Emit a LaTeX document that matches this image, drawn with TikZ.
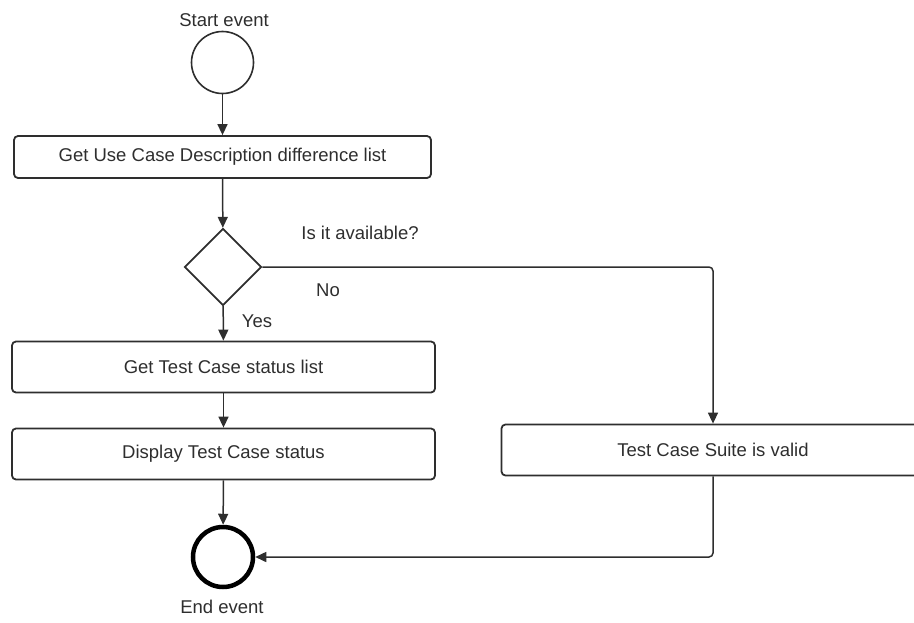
\documentclass[tikz,border=0pt]{standalone}
\usepackage{fontspec}
\setmainfont{Liberation Sans}
\usetikzlibrary{arrows.meta,shapes.geometric}
\definecolor{ink}{HTML}{2E2E2E}
\tikzset{
  every node/.style={text=ink, font=\fontsize{18.5}{21}\selectfont},
  task/.style={draw=ink, line width=1.8pt, rounded corners=4pt, rectangle,
    minimum width=423pt, minimum height=51pt, inner sep=0pt},
  flow/.style={draw=ink, line width=1.5pt, rounded corners=4pt,
    -{Triangle[length=11pt,width=10pt]}},
  gate/.style={draw=ink, line width=1.8pt, diamond, aspect=1,
    minimum width=77pt, minimum height=77pt, inner sep=0pt},
  startev/.style={draw=ink, line width=1.6pt, circle, minimum size=62pt, inner sep=0pt},
  endev/.style={draw=black, line width=4.5pt, circle, minimum size=60pt, inner sep=0pt},
  lbl/.style={inner sep=0pt}
}
\begin{document}
\begin{tikzpicture}[x=1pt,y=-1pt]
  \useasboundingbox (0,0) rectangle (914,622);
  \clip (0,0) rectangle (914,622);

  % events
  \node[startev] (start) at (222.5,62.5) {};
  \node[lbl] (startlbl) at (224,20) {Start event};
  \node[lbl] (endlbl) at (222,607) {End event};
  \node[endev] (end) at (223,557) {};

  % activities
  \node[task, minimum width=417pt, minimum height=42pt] (diff) at (222.5,157) {Get Use Case Description difference list};
  \node[gate] (avail) at (223,267) {};
  \node[task] (status) at (223.5,367) {Get Test Case status list};
  \node[task] (display) at (223.5,454) {Display Test Case status};
  \node[task] (valid) at (713,450) {Test Case Suite is valid};

  % gateway labels
  \node[lbl] (question) at (360,233) {Is it available?};
  \node[lbl] (no) at (328,290) {No};
  \node[lbl] (yes) at (257,321) {Yes};

  % sequence flows
  \draw[flow] (start) -- (diff);
  \draw[flow] (diff) -- (avail);
  \draw[flow] (avail) -- (status);
  \draw[flow] (status) -- (display);
  \draw[flow] (display) -- (end);
  \draw[flow] (avail.east) -| (valid.north);
  \draw[flow] (valid.south) |- (end.east);
\end{tikzpicture}
\end{document}
